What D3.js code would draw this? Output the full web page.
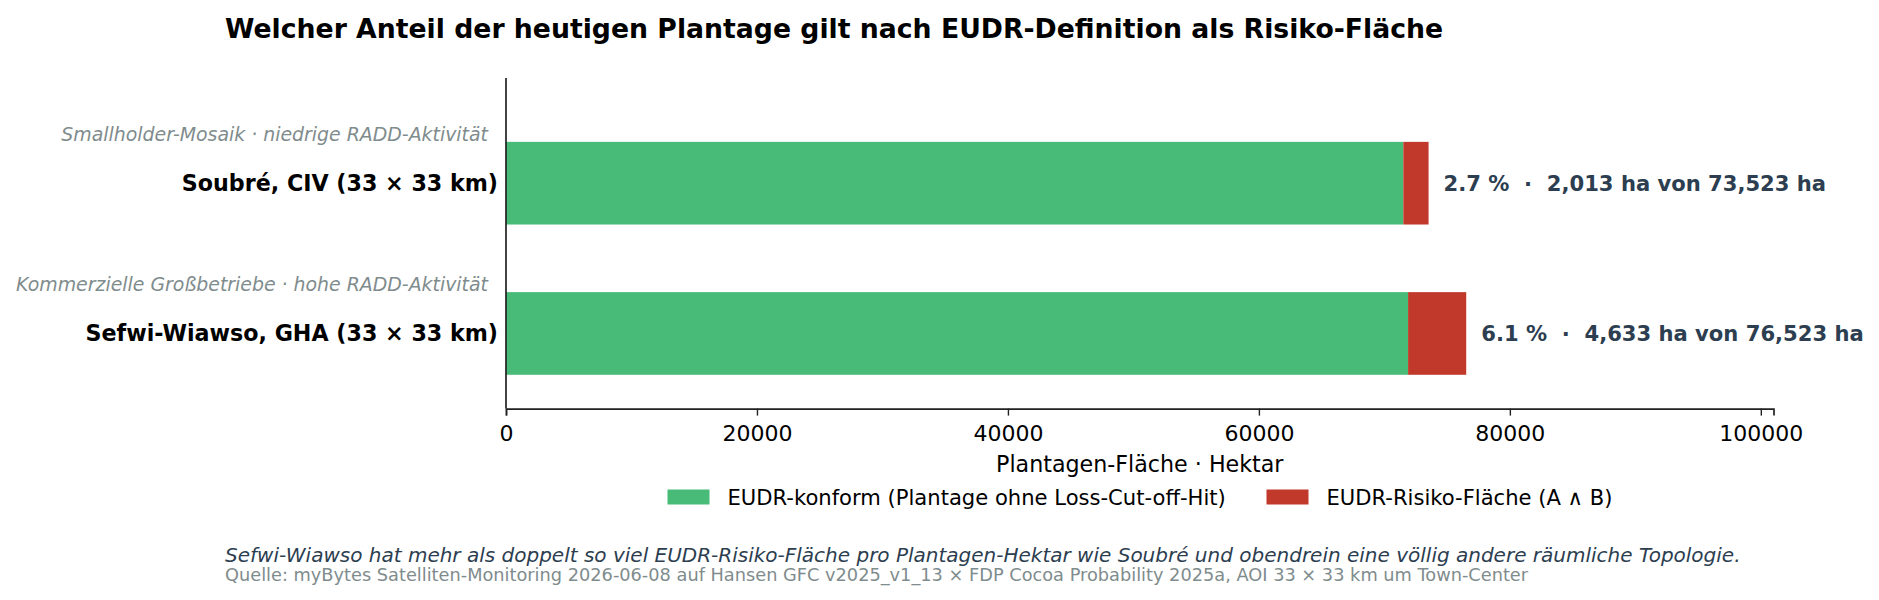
<!DOCTYPE html>
<html>
<head>
<meta charset="utf-8">
<script src="https://cdn.jsdelivr.net/npm/d3@7"></script>
<style>
  body { margin: 0; background: #fff; }
  svg { font-family: "DejaVu Sans", sans-serif; display: block; }
  text { white-space: pre; }
</style>
</head>
<body>
<div id="chart"></div>
<script>
const regions = ["Soubré, CIV (33 × 33 km)", "Sefwi-Wiawso, GHA (33 × 33 km)"];
const regionNotes = [
  "Smallholder-Mosaik · niedrige RADD-Aktivität",
  "Kommerzielle Großbetriebe · hohe RADD-Aktivität"
];
const totalHa = [73523, 76523];
const riskHa = [2013, 4633];
const riskPct = [2.7, 6.1];
const xTicks = [0, 20000, 40000, 60000, 80000, 100000];
const legendLabels = ["EUDR-konform (Plantage ohne Loss-Cut-off-Hit)", "EUDR-Risiko-Fläche (A ∧ B)"];

const W = 1879, H = 600;
const GREEN = "#48bb78", RED = "#c0392b", DARK = "#2c3e50", GREY = "#7f8c8d";
const margin = { left: 506, right: W - 1773.5, top: 78, bottom: H - 408.6 };

const svg = d3.select("#chart").append("svg")
  .attr("width", W).attr("height", H)
  .attr("viewBox", [0, 0, W, H]);

const x = d3.scaleLinear()
  .domain([0, d3.max(totalHa) * 1.32])
  .range([margin.left, W - margin.right]);

// matplotlib-style inverted category axis, -0.7 .. 1.5
const y = d3.scaleLinear()
  .domain([-0.7, 1.5])
  .range([margin.top, H - margin.bottom]);
const barH = 0.55;

const rows = regions.map((name, i) => ({
  name,
  note: regionNotes[i],
  total: totalHa[i],
  risk: riskHa[i],
  ok: totalHa[i] - riskHa[i],
  pct: riskPct[i],
  i
}));

// title
svg.append("text")
  .attr("x", 225).attr("y", 28)
  .attr("dominant-baseline", "central")
  .style("font-size", "26.7px").style("font-weight", "bold")
  .text("Welcher Anteil der heutigen Plantage gilt nach EUDR-Definition als Risiko-Fläche");

// bars
const g = svg.append("g");
g.selectAll("rect.ok").data(rows).join("rect")
  .attr("class", "ok")
  .attr("x", x(0))
  .attr("y", d => y(d.i - barH / 2))
  .attr("width", d => x(d.ok) - x(0))
  .attr("height", y(barH) - y(0))
  .attr("fill", GREEN);

g.selectAll("rect.risk").data(rows).join("rect")
  .attr("class", "risk")
  .attr("x", d => x(d.ok))
  .attr("y", d => y(d.i - barH / 2))
  .attr("width", d => x(d.total) - x(d.ok))
  .attr("height", y(barH) - y(0))
  .attr("fill", RED);

const fmt = d3.format(",");
g.selectAll("text.val").data(rows).join("text")
  .attr("class", "val")
  .attr("x", d => x(d.total) + 15)
  .attr("y", d => y(d.i))
  .attr("dominant-baseline", "central")
  .style("font-size", "21.1px").style("font-weight", "bold")
  .attr("fill", DARK)
  .text(d => `${d.pct.toFixed(1)} %  ·  ${fmt(d.risk)} ha von ${fmt(d.total)} ha`);

// y labels + notes
g.selectAll("text.cat").data(rows).join("text")
  .attr("class", "cat")
  .attr("x", x(0) - 8)
  .attr("y", d => y(d.i))
  .attr("text-anchor", "end")
  .attr("dominant-baseline", "central")
  .style("font-size", "22.2px").style("font-weight", "bold")
  .text(d => d.name);

g.selectAll("text.note").data(rows).join("text")
  .attr("class", "note")
  .attr("x", x(0) - 18)
  .attr("y", d => y(d.i - 0.33))
  .attr("text-anchor", "end")
  .attr("dominant-baseline", "central")
  .style("font-size", "18.9px").style("font-style", "italic")
  .attr("fill", GREY)
  .text(d => d.note);

// x axis
const xAxis = svg.append("g")
  .attr("transform", `translate(0,${H - margin.bottom})`)
  .call(d3.axisBottom(x).tickValues(xTicks).tickFormat(d3.format("d")).tickSizeOuter(0).tickSize(7).tickPadding(10));
xAxis.select(".domain").attr("stroke", "#222").attr("stroke-width", 1.7);
xAxis.selectAll(".tick line").attr("stroke", "#222").attr("stroke-width", 1.4);
xAxis.selectAll(".tick text")
  .style("font-family", "DejaVu Sans").style("font-size", "22px").attr("fill", "#000");

// left spine
svg.append("line")
  .attr("x1", x(0)).attr("x2", x(0))
  .attr("y1", margin.top).attr("y2", H - margin.bottom)
  .attr("stroke", "#222").attr("stroke-width", 1.7);

svg.append("text")
  .attr("x", (x.range()[0] + x.range()[1]) / 2).attr("y", 464)
  .attr("text-anchor", "middle").attr("dominant-baseline", "central")
  .style("font-size", "22.2px")
  .text("Plantagen-Fläche · Hektar");

// legend
const legend = svg.append("g");
const legendX = [667.5, 1266.5];
[GREEN, RED].forEach((c, i) => {
  legend.append("rect")
    .attr("x", legendX[i]).attr("y", 489.5)
    .attr("width", 42).attr("height", 15)
    .attr("fill", c);
  legend.append("text")
    .attr("x", legendX[i] + 60).attr("y", 497)
    .attr("dominant-baseline", "central")
    .style("font-size", "21.1px")
    .text(legendLabels[i]);
});

// footer
svg.append("text")
  .attr("x", 225).attr("y", 555)
  .attr("dominant-baseline", "central")
  .style("font-size", "20px").style("font-style", "italic")
  .attr("fill", DARK)
  .text("Sefwi-Wiawso hat mehr als doppelt so viel EUDR-Risiko-Fläche pro Plantagen-Hektar wie Soubré und obendrein eine völlig andere räumliche Topologie.");

svg.append("text")
  .attr("x", 225).attr("y", 575)
  .attr("dominant-baseline", "central")
  .style("font-size", "17.75px")
  .attr("fill", GREY)
  .text("Quelle: myBytes Satelliten-Monitoring 2026-06-08 auf Hansen GFC v2025_v1_13 × FDP Cocoa Probability 2025a, AOI 33 × 33 km um Town-Center");
</script>
</body>
</html>
